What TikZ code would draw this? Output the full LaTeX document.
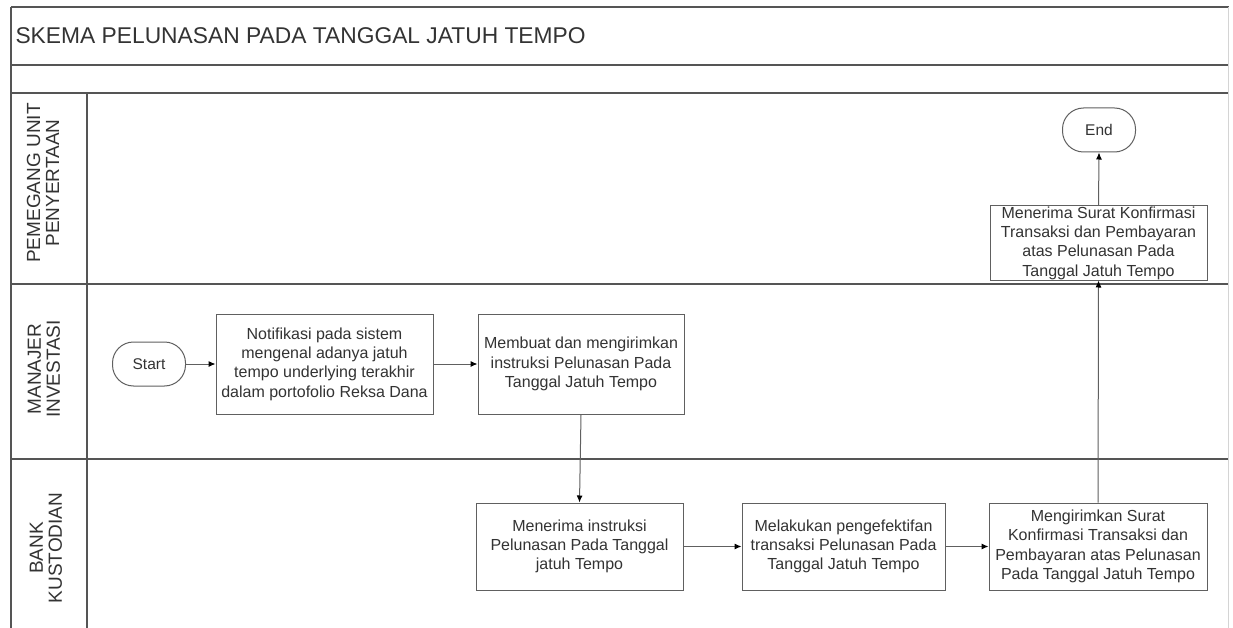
\documentclass[tikz,border=0pt]{standalone}
\usepackage{fontspec}
\setmainfont{Liberation Sans}
\usetikzlibrary{arrows.meta}
\definecolor{lanec}{HTML}{555555}
\definecolor{boxc}{HTML}{606060}
\definecolor{txtc}{HTML}{333333}
\tikzset{
  lane/.style={draw=lanec, line width=1.6pt},
  procbox/.style={draw=boxc, line width=1pt, fill=white, align=center, inner sep=0pt,
    font=\fontsize{16}{19.3}\selectfont, text=txtc},
  termbox/.style={draw=boxc, line width=1pt, fill=white, rounded corners=21pt, inner sep=0pt,
    font=\fontsize{15.5}{19.3}\selectfont, text=txtc, minimum width=73pt, minimum height=44pt},
  flow/.style={draw=boxc, line width=1pt, -{Latex[length=7pt,width=6pt,color=black]}},
  lanelabel/.style={rotate=90, align=center, font=\fontsize{19}{19}\selectfont, text=txtc},
}
\begin{document}
\begin{tikzpicture}[x=1pt,y=-1pt]
\useasboundingbox (0,0) rectangle (1233,628);
\fill[white] (0,0) rectangle (1233,628);
% frame
\draw[lane] (11,7) -- (1229,7);
\draw[lane] (11,65) -- (1229,65);
\draw[lane] (11,93) -- (1229,93);
\draw[lane] (11,284) -- (1229,284);
\draw[lane] (11,459) -- (1229,459);
\draw[lane] (11,7) -- (11,628);
\draw[lane] (87,93) -- (87,628);
\draw[draw=lanec!25, line width=1pt] (1228,7) -- (1228,628);
% title
\node[anchor=west, font=\fontsize{22.8}{26}\selectfont, text=txtc] (title) at (12,36) {SKEMA PELUNASAN PADA TANGGAL JATUH TEMPO};
% lane labels
\node[lanelabel] (l1) at (43,183) {PEMEGANG UNIT\\PENYERTAAN};
\node[lanelabel] (l2) at (44,369) {MANAJER\\INVESTASI};
\node[lanelabel] (l3) at (46,548) {BANK\\KUSTODIAN};
% nodes
\node[termbox] (start) at (149,364) {Start};
\node[procbox, minimum width=217pt, minimum height=100pt] (b1) at (324.5,364)
  {Notifikasi pada sistem\\mengenal adanya jatuh\\tempo underlying terakhir\\dalam portofolio Reksa Dana};
\node[procbox, minimum width=206pt, minimum height=100pt] (b2) at (581,364)
  {Membuat dan mengirimkan\\instruksi Pelunasan Pada\\Tanggal Jatuh Tempo};
\node[procbox, minimum width=207pt, minimum height=87pt] (b3) at (579.5,546.5)
  {Menerima instruksi\\Pelunasan Pada Tanggal\\jatuh Tempo};
\node[procbox, minimum width=203pt, minimum height=87pt] (b4) at (843.5,546.5)
  {Melakukan pengefektifan\\transaksi Pelunasan Pada\\Tanggal Jatuh Tempo};
\node[procbox, minimum width=218pt, minimum height=87pt] (b5) at (1098,546.5)
  {Mengirimkan Surat\\Konfirmasi Transaksi dan\\Pembayaran atas Pelunasan\\Pada Tanggal Jatuh Tempo};
\node[procbox, minimum width=217pt, minimum height=74pt] (b6) at (1098.5,243)
  {Menerima Surat Konfirmasi\\Transaksi dan Pembayaran\\atas Pelunasan Pada\\Tanggal Jatuh Tempo};
\node[termbox] (end) at (1099,130) {End};
% connectors
\draw[flow] (start) -- (b1);
\draw[flow] (b1) -- (b2);
\draw[flow] (b2.south) -- (b3.north);
\draw[flow] (b3) -- (b4);
\draw[flow] (b4) -- (b5);
\draw[flow] (b5.north) -- (b6.south);
\draw[flow] (b6.north) -- (end.south);
\end{tikzpicture}
\end{document}
